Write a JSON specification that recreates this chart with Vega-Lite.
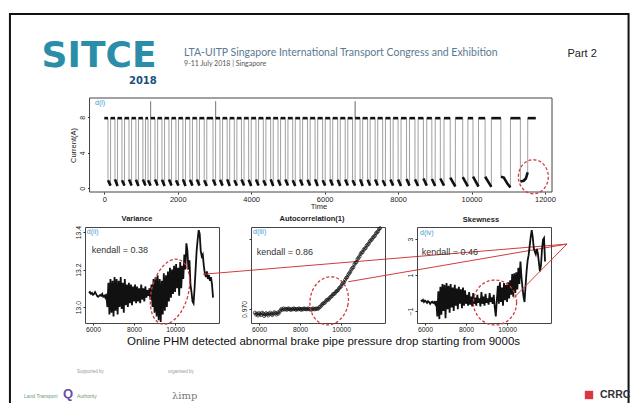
{
"$schema":"https://vega.github.io/schema/vega-lite/v6.json",
"background":"white",
"padding":{"left":8,"top":13,"right":0,"bottom":0},
"bounds":"flush",
"spacing":35,
"config":{
 "font":"Liberation Sans",
 "view":{"stroke":"#444","strokeWidth":1},
 "axis":{"grid":false,"domain":false,"ticks":true,"tickSize":2,"tickColor":"#333","labelFontSize":6.8,"labelColor":"#222","labelPadding":1,"labelFlush":false,"labelOverlap":false,"titleFontWeight":"normal","titleFontSize":7.5,"titleColor":"#222","titlePadding":1},
 "axisY":{"labelAngle":-90,"labelAlign":"center","labelBaseline":"bottom","labelPadding":2},
 "title":{"fontSize":7.5,"fontWeight":"bold","color":"#222","frame":"group","offset":3}
},
"datasets":{
"top":[
{"t":0,"v":7.9,"p":0},
{"t":100,"v":7.9,"p":0},{"t":101,"v":0.9,"p":1},{"t":170,"v":0.3,"p":1},{"t":171,"v":7.9,"p":2},
{"t":290,"v":7.9,"p":2},{"t":291,"v":1.0,"p":3},{"t":360,"v":0.25,"p":3},{"t":361,"v":7.9,"p":4},
{"t":480,"v":7.9,"p":4},{"t":481,"v":0.9,"p":5},{"t":550,"v":0.3,"p":5},{"t":551,"v":7.9,"p":6},
{"t":672,"v":7.9,"p":6},{"t":673,"v":1.0,"p":7},{"t":742,"v":0.3,"p":7},{"t":743,"v":7.9,"p":8},
{"t":860,"v":7.9,"p":8},{"t":861,"v":0.95,"p":9},{"t":930,"v":0.25,"p":9},{"t":931,"v":7.9,"p":10},
{"t":1050,"v":7.9,"p":10},{"t":1051,"v":1.0,"p":11},{"t":1120,"v":0.3,"p":11},{"t":1121,"v":7.9,"p":12},
{"t":1190,"v":7.9,"p":12},{"t":1191,"v":0.9,"p":13},{"t":1260,"v":0.3,"p":13},{"t":1261,"v":9.8},{"t":1262,"v":7.9,"p":14},
{"t":1380,"v":7.9,"p":14},{"t":1381,"v":1.0,"p":15},{"t":1450,"v":0.3,"p":15},{"t":1451,"v":7.9,"p":16},
{"t":1570,"v":7.9,"p":16},{"t":1571,"v":0.95,"p":17},{"t":1640,"v":0.25,"p":17},{"t":1641,"v":7.9,"p":18},
{"t":1760,"v":7.9,"p":18},{"t":1761,"v":1.0,"p":19},{"t":1830,"v":0.3,"p":19},{"t":1831,"v":7.9,"p":20},
{"t":1950,"v":7.9,"p":20},{"t":1951,"v":0.9,"p":21},{"t":2020,"v":0.3,"p":21},{"t":2021,"v":7.9,"p":22},
{"t":2140,"v":7.9,"p":22},{"t":2141,"v":1.0,"p":23},{"t":2210,"v":0.25,"p":23},{"t":2211,"v":7.9,"p":24},
{"t":2330,"v":7.9,"p":24},{"t":2331,"v":0.95,"p":25},{"t":2400,"v":0.3,"p":25},{"t":2401,"v":7.9,"p":26},
{"t":2520,"v":7.9,"p":26},{"t":2521,"v":1.0,"p":27},{"t":2590,"v":0.3,"p":27},{"t":2591,"v":7.9,"p":28},
{"t":2720,"v":7.9,"p":28},{"t":2721,"v":0.9,"p":29},{"t":2790,"v":0.25,"p":29},{"t":2791,"v":7.9,"p":30},
{"t":2960,"v":7.9,"p":30},{"t":2961,"v":1.0,"p":31},{"t":3030,"v":0.3,"p":31},{"t":3031,"v":9.8},{"t":3032,"v":7.9,"p":32},
{"t":3150,"v":7.9,"p":32},{"t":3151,"v":0.95,"p":33},{"t":3220,"v":0.3,"p":33},{"t":3221,"v":7.9,"p":34},
{"t":3345,"v":7.9,"p":34},{"t":3346,"v":1.0,"p":35},{"t":3415,"v":0.25,"p":35},{"t":3416,"v":7.9,"p":36},
{"t":3540,"v":7.9,"p":36},{"t":3541,"v":0.9,"p":37},{"t":3610,"v":0.3,"p":37},{"t":3611,"v":7.9,"p":38},
{"t":3735,"v":7.9,"p":38},{"t":3736,"v":1.0,"p":39},{"t":3805,"v":0.3,"p":39},{"t":3806,"v":7.9,"p":40},
{"t":3930,"v":7.9,"p":40},{"t":3931,"v":0.95,"p":41},{"t":4000,"v":0.25,"p":41},{"t":4001,"v":7.9,"p":42},
{"t":4130,"v":7.9,"p":42},{"t":4131,"v":1.0,"p":43},{"t":4200,"v":0.3,"p":43},{"t":4201,"v":7.9,"p":44},
{"t":4330,"v":7.9,"p":44},{"t":4331,"v":0.9,"p":45},{"t":4400,"v":0.3,"p":45},{"t":4401,"v":7.9,"p":46},
{"t":4530,"v":7.9,"p":46},{"t":4531,"v":1.0,"p":47},{"t":4600,"v":0.25,"p":47},{"t":4601,"v":7.9,"p":48},
{"t":4730,"v":7.9,"p":48},{"t":4731,"v":0.95,"p":49},{"t":4800,"v":0.3,"p":49},{"t":4801,"v":7.9,"p":50},
{"t":4930,"v":7.9,"p":50},{"t":4931,"v":1.0,"p":51},{"t":5000,"v":0.3,"p":51},{"t":5001,"v":7.9,"p":52},
{"t":5130,"v":7.9,"p":52},{"t":5131,"v":0.9,"p":53},{"t":5200,"v":0.25,"p":53},{"t":5201,"v":7.9,"p":54},
{"t":5330,"v":7.9,"p":54},{"t":5331,"v":1.0,"p":55},{"t":5400,"v":0.3,"p":55},{"t":5401,"v":7.9,"p":56},
{"t":5535,"v":7.9,"p":56},{"t":5536,"v":0.95,"p":57},{"t":5605,"v":0.3,"p":57},{"t":5606,"v":7.9,"p":58},
{"t":5740,"v":7.9,"p":58},{"t":5741,"v":1.0,"p":59},{"t":5810,"v":0.25,"p":59},{"t":5811,"v":7.9,"p":60},
{"t":5945,"v":7.9,"p":60},{"t":5946,"v":0.9,"p":61},{"t":6015,"v":0.3,"p":61},{"t":6016,"v":7.9,"p":62},
{"t":6150,"v":7.9,"p":62},{"t":6151,"v":1.0,"p":63},{"t":6220,"v":0.3,"p":63},{"t":6221,"v":7.9,"p":64},
{"t":6355,"v":7.9,"p":64},{"t":6356,"v":0.95,"p":65},{"t":6425,"v":0.25,"p":65},{"t":6426,"v":7.9,"p":66},
{"t":6560,"v":7.9,"p":66},{"t":6561,"v":1.0,"p":67},{"t":6630,"v":0.3,"p":67},{"t":6631,"v":7.9,"p":68},
{"t":6760,"v":7.9,"p":68},{"t":6761,"v":0.9,"p":69},{"t":6830,"v":0.3,"p":69},{"t":6831,"v":9.8},{"t":6832,"v":7.9,"p":70},
{"t":6965,"v":7.9,"p":70},{"t":6966,"v":1.0,"p":71},{"t":7035,"v":0.25,"p":71},{"t":7036,"v":7.9,"p":72},
{"t":7170,"v":7.9,"p":72},{"t":7171,"v":0.95,"p":73},{"t":7240,"v":0.3,"p":73},{"t":7241,"v":7.9,"p":74},
{"t":7375,"v":7.9,"p":74},{"t":7376,"v":1.0,"p":75},{"t":7445,"v":0.3,"p":75},{"t":7446,"v":7.9,"p":76},
{"t":7580,"v":7.9,"p":76},{"t":7581,"v":0.9,"p":77},{"t":7655,"v":0.25,"p":77},{"t":7656,"v":7.9,"p":78},
{"t":7790,"v":7.9,"p":78},{"t":7791,"v":1.0,"p":79},{"t":7865,"v":0.3,"p":79},{"t":7866,"v":7.9,"p":80},
{"t":8000,"v":7.9,"p":80},{"t":8001,"v":1.0,"p":81},{"t":8080,"v":0.25,"p":81},{"t":8081,"v":7.9,"p":82},
{"t":8230,"v":7.9,"p":82},{"t":8231,"v":1.05,"p":83},{"t":8310,"v":0.3,"p":83},{"t":8311,"v":7.9,"p":84},
{"t":8460,"v":7.9,"p":84},{"t":8461,"v":1.0,"p":85},{"t":8545,"v":0.25,"p":85},{"t":8546,"v":7.9,"p":86},
{"t":8690,"v":7.9,"p":86},{"t":8691,"v":1.1,"p":87},{"t":8780,"v":0.3,"p":87},{"t":8781,"v":7.9,"p":88},
{"t":8920,"v":7.9,"p":88},{"t":8921,"v":1.05,"p":89},{"t":9010,"v":0.25,"p":89},{"t":9011,"v":7.9,"p":90},
{"t":9150,"v":7.9,"p":90},{"t":9151,"v":1.1,"p":91},{"t":9250,"v":0.3,"p":91},{"t":9251,"v":7.9,"p":92},
{"t":9420,"v":7.9,"p":92},{"t":9421,"v":1.2,"p":93},{"t":9560,"v":0.2,"p":93},{"t":9561,"v":7.9,"p":94},
{"t":9760,"v":7.9,"p":94},{"t":9761,"v":1.25,"p":95},{"t":9900,"v":0.2,"p":95},{"t":9901,"v":7.9,"p":96},
{"t":10040,"v":7.9,"p":96},{"t":10041,"v":1.3,"p":97},{"t":10190,"v":0.2,"p":97},{"t":10191,"v":7.9,"p":98},
{"t":10370,"v":7.9,"p":98},{"t":10371,"v":1.3,"p":99},{"t":10540,"v":0.15,"p":99},{"t":10541,"v":7.9,"p":100},
{"t":10800,"v":7.9,"p":100},{"t":10801,"v":1.3,"p":101},{"t":10880,"v":1.2,"p":101},{"t":10980,"v":0.5,"p":101},{"t":11060,"v":0.1,"p":101},{"t":11061,"v":7.9,"p":102},
{"t":11330,"v":7.9,"p":102},{"t":11331,"v":0.75,"p":103},{"t":11420,"v":0.85,"p":103},{"t":11480,"v":1.1,"p":103},{"t":11530,"v":1.8,"p":103},{"t":11531,"v":7.9,"p":104},{"t":11750,"v":7.9,"p":104}
],
"var":[
{"x":5800,"y":13.075},{"x":5850,"y":13.08},{"x":5900,"y":13.07},{"x":5950,"y":13.075},{"x":6000,"y":13.065},{"x":6050,"y":13.07},{"x":6100,"y":13.08},{"x":6150,"y":13.07},{"x":6200,"y":13.06},{"x":6250,"y":13.055},{"x":6300,"y":13.06},{"x":6350,"y":13.065},{"x":6400,"y":13.06},{"x":6450,"y":13.07},{"x":6500,"y":13.055},{"x":6550,"y":13.06},{"x":6600,"y":13.05},{"x":6650,"y":13.07},
{"x":6700,"y":13.0},{"x":6750,"y":13.13},{"x":6800,"y":12.96},{"x":6850,"y":13.15},{"x":6900,"y":12.97},{"x":6950,"y":13.14},{"x":7000,"y":12.95},{"x":7050,"y":13.16},{"x":7100,"y":12.98},{"x":7150,"y":13.15},{"x":7200,"y":12.96},{"x":7250,"y":13.14},{"x":7300,"y":13.0},{"x":7350,"y":13.16},{"x":7400,"y":12.99},{"x":7450,"y":13.13},{"x":7500,"y":12.97},{"x":7550,"y":13.15},{"x":7600,"y":13.01},{"x":7650,"y":13.12},{"x":7700,"y":13.0},{"x":7750,"y":13.13},{"x":7800,"y":13.02},{"x":7850,"y":13.12},{"x":7900,"y":13.01},{"x":7950,"y":13.11},{"x":8000,"y":13.03},{"x":8050,"y":13.12},{"x":8100,"y":13.02},{"x":8150,"y":13.11},{"x":8200,"y":13.03},{"x":8250,"y":13.1},{"x":8300,"y":13.02},{"x":8350,"y":13.12},{"x":8400,"y":13.04},{"x":8450,"y":13.1},{"x":8500,"y":13.03},{"x":8550,"y":13.11},{"x":8600,"y":13.05},{"x":8650,"y":13.09},{"x":8700,"y":13.06},{"x":8750,"y":13.1},{"x":8800,"y":13.04},{"x":8850,"y":13.12},{"x":8900,"y":13.0},
{"x":8950,"y":13.15},{"x":9000,"y":12.97},{"x":9050,"y":13.16},{"x":9100,"y":12.95},{"x":9150,"y":13.17},{"x":9200,"y":12.93},{"x":9250,"y":13.15},{"x":9300,"y":12.92},{"x":9350,"y":13.14},{"x":9400,"y":12.96},{"x":9450,"y":13.18},{"x":9500,"y":12.98},{"x":9550,"y":13.17},{"x":9600,"y":13.0},{"x":9650,"y":13.19},{"x":9700,"y":13.03},{"x":9750,"y":13.21},{"x":9800,"y":13.05},{"x":9850,"y":13.2},{"x":9900,"y":13.07},{"x":9950,"y":13.22},{"x":10000,"y":13.08},{"x":10050,"y":13.23},{"x":10100,"y":13.1},{"x":10150,"y":13.21},{"x":10200,"y":13.06},{"x":10250,"y":13.24},{"x":10300,"y":13.1},{"x":10350,"y":13.22},{"x":10400,"y":13.15},{"x":10450,"y":13.28},{"x":10500,"y":13.2},{"x":10550,"y":13.34},{"x":10600,"y":13.3},{"x":10650,"y":13.2},{"x":10700,"y":13.25},{"x":10750,"y":13.12},{"x":10800,"y":13.08},{"x":10850,"y":13.03},{"x":10900,"y":13.02},{"x":10950,"y":13.1},{"x":11000,"y":13.2},{"x":11050,"y":13.3},{"x":11100,"y":13.36},{"x":11150,"y":13.41},{"x":11200,"y":13.39},{"x":11250,"y":13.3},{"x":11300,"y":13.27},{"x":11350,"y":13.28},{"x":11400,"y":13.22},{"x":11450,"y":13.18},{"x":11500,"y":13.16},{"x":11550,"y":13.19},{"x":11600,"y":13.15},{"x":11650,"y":13.17},{"x":11700,"y":13.14},{"x":11750,"y":13.16},{"x":11800,"y":13.12},{"x":11850,"y":13.05}
],
"ac":[
{"x":5800,"y":0.9692},{"x":5850,"y":0.9688},{"x":5900,"y":0.969},{"x":5950,"y":0.9686},{"x":6000,"y":0.9691},{"x":6050,"y":0.9689},{"x":6100,"y":0.9687},{"x":6150,"y":0.9692},{"x":6200,"y":0.969},{"x":6250,"y":0.9685},{"x":6300,"y":0.9688},{"x":6350,"y":0.9691},{"x":6400,"y":0.9689},{"x":6450,"y":0.9686},{"x":6500,"y":0.969},{"x":6550,"y":0.9692},{"x":6600,"y":0.9689},{"x":6650,"y":0.9687},{"x":6700,"y":0.969},{"x":6750,"y":0.9693},{"x":6800,"y":0.9691},{"x":6850,"y":0.9688},{"x":6900,"y":0.9692},{"x":6950,"y":0.969},{"x":7000,"y":0.9694},{"x":7050,"y":0.9697},{"x":7100,"y":0.97},{"x":7150,"y":0.9698},{"x":7200,"y":0.9701},{"x":7250,"y":0.9699},{"x":7300,"y":0.97},{"x":7350,"y":0.9698},{"x":7400,"y":0.97},{"x":7450,"y":0.9701},{"x":7500,"y":0.9699},{"x":7550,"y":0.9698},{"x":7600,"y":0.97},{"x":7650,"y":0.9699},{"x":7700,"y":0.9701},{"x":7750,"y":0.97},{"x":7800,"y":0.9698},{"x":7850,"y":0.97},{"x":7900,"y":0.9699},{"x":7950,"y":0.9701},{"x":8000,"y":0.97},{"x":8050,"y":0.9698},{"x":8100,"y":0.97},{"x":8150,"y":0.9699},{"x":8200,"y":0.9701},{"x":8250,"y":0.97},{"x":8300,"y":0.9699},{"x":8350,"y":0.97},{"x":8400,"y":0.9701},{"x":8450,"y":0.9699},{"x":8500,"y":0.97},{"x":8550,"y":0.9698},{"x":8600,"y":0.97},{"x":8650,"y":0.9701},{"x":8700,"y":0.9699},{"x":8750,"y":0.97},{"x":8800,"y":0.9701},
{"x":8850,"y":0.97},{"x":8900,"y":0.9701},{"x":8950,"y":0.9704},{"x":9000,"y":0.9705},{"x":9050,"y":0.9708},{"x":9100,"y":0.9711},{"x":9150,"y":0.9712},{"x":9200,"y":0.9713},{"x":9250,"y":0.9716},{"x":9300,"y":0.9719},{"x":9350,"y":0.972},{"x":9400,"y":0.972},{"x":9450,"y":0.9724},{"x":9500,"y":0.9726},{"x":9550,"y":0.9727},{"x":9600,"y":0.9731},{"x":9650,"y":0.9732},{"x":9700,"y":0.9733},{"x":9750,"y":0.9737},{"x":9800,"y":0.9738},{"x":9850,"y":0.974},{"x":9900,"y":0.9744},{"x":9950,"y":0.9746},{"x":10000,"y":0.9748},{"x":10050,"y":0.9753},{"x":10100,"y":0.9755},{"x":10150,"y":0.9757},{"x":10200,"y":0.9762},{"x":10250,"y":0.9766},{"x":10300,"y":0.9768},{"x":10350,"y":0.9773},{"x":10400,"y":0.9776},{"x":10450,"y":0.9779},{"x":10500,"y":0.9784},{"x":10550,"y":0.9787},{"x":10600,"y":0.9789},{"x":10650,"y":0.9795},{"x":10700,"y":0.9798},{"x":10750,"y":0.98},{"x":10800,"y":0.9806},{"x":10850,"y":0.9809},{"x":10900,"y":0.9812},{"x":10950,"y":0.9817},{"x":11000,"y":0.982},{"x":11050,"y":0.9821},{"x":11100,"y":0.9826},{"x":11150,"y":0.9828},{"x":11200,"y":0.983},{"x":11250,"y":0.9835},{"x":11300,"y":0.9837},{"x":11350,"y":0.9839},{"x":11400,"y":0.9844},{"x":11450,"y":0.9846},{"x":11500,"y":0.9848},{"x":11550,"y":0.9852},{"x":11600,"y":0.9854},{"x":11650,"y":0.9856},{"x":11700,"y":0.9861},{"x":11750,"y":0.9863},{"x":11800,"y":0.9865},{"x":11850,"y":0.987},{"x":11900,"y":0.9872}
],
"sk":[
{"x":5800,"y":-0.4},{"x":5850,"y":-0.45},{"x":5900,"y":-0.38},{"x":5950,"y":-0.5},{"x":6000,"y":-0.42},{"x":6050,"y":-0.48},{"x":6100,"y":-0.55},{"x":6150,"y":-0.45},{"x":6200,"y":-0.5},{"x":6250,"y":-0.6},{"x":6300,"y":-0.52},{"x":6350,"y":-0.48},{"x":6400,"y":-0.55},{"x":6450,"y":-0.5},{"x":6500,"y":-0.62},{"x":6550,"y":-0.45},{"x":6600,"y":-1.3},{"x":6650,"y":0.1},{"x":6700,"y":-1.45},{"x":6750,"y":0.35},{"x":6800,"y":-1.2},{"x":6850,"y":0.5},{"x":6900,"y":-1.0},{"x":6950,"y":0.45},{"x":7000,"y":-1.4},{"x":7050,"y":0.55},{"x":7100,"y":-0.9},{"x":7150,"y":0.4},{"x":7200,"y":-1.1},{"x":7250,"y":0.5},{"x":7300,"y":-0.8},{"x":7350,"y":0.3},{"x":7400,"y":-1.0},{"x":7450,"y":0.45},{"x":7500,"y":-0.7},{"x":7550,"y":0.25},{"x":7600,"y":-0.9},{"x":7650,"y":0.35},{"x":7700,"y":-0.6},{"x":7750,"y":0.2},{"x":7800,"y":-0.85},{"x":7850,"y":0.3},{"x":7900,"y":-0.7},{"x":7950,"y":0.15},{"x":8000,"y":-0.6},{"x":8050,"y":-0.1},{"x":8100,"y":-0.7},{"x":8150,"y":0.05},{"x":8200,"y":-0.65},{"x":8250,"y":-0.2},{"x":8300,"y":-0.75},{"x":8350,"y":0.0},{"x":8400,"y":-0.6},{"x":8450,"y":-0.25},{"x":8500,"y":-0.7},{"x":8550,"y":-0.1},{"x":8600,"y":-0.55},{"x":8650,"y":-0.3},{"x":8700,"y":-0.75},{"x":8750,"y":0.05},{"x":8800,"y":-0.6},{"x":8850,"y":-0.2},{"x":8900,"y":-0.7},{"x":8950,"y":-0.05},{"x":9000,"y":-0.55},{"x":9050,"y":-0.3},{"x":9100,"y":-0.65},{"x":9150,"y":0.0},{"x":9200,"y":-0.5},{"x":9250,"y":-0.25},{"x":9300,"y":-0.6},{"x":9350,"y":-0.1},{"x":9400,"y":-0.8},{"x":9450,"y":-1.3},{"x":9500,"y":-0.4},{"x":9550,"y":0.4},{"x":9600,"y":-0.6},{"x":9650,"y":0.6},{"x":9700,"y":-0.5},{"x":9750,"y":0.3},{"x":9800,"y":-0.7},{"x":9850,"y":0.55},{"x":9900,"y":-0.4},{"x":9950,"y":0.45},{"x":10000,"y":-0.5},{"x":10050,"y":0.6},{"x":10100,"y":-0.3},{"x":10150,"y":0.7},{"x":10200,"y":-0.1},{"x":10250,"y":1.05},{"x":10300,"y":-0.2},{"x":10350,"y":1.1},{"x":10400,"y":0.0},{"x":10450,"y":1.15},{"x":10500,"y":0.2},{"x":10550,"y":1.4},{"x":10600,"y":0.5},{"x":10650,"y":1.75},{"x":10700,"y":0.9},{"x":10750,"y":0.3},{"x":10800,"y":-0.2},{"x":10850,"y":-0.5},{"x":10900,"y":0.4},{"x":10950,"y":1.2},{"x":11000,"y":1.8},{"x":11050,"y":2.1},{"x":11100,"y":2.6},{"x":11150,"y":3.1},{"x":11200,"y":3.5},{"x":11250,"y":3.1},{"x":11300,"y":2.5},{"x":11350,"y":2.3},{"x":11400,"y":2.15},{"x":11450,"y":2.45},{"x":11500,"y":2.2},{"x":11550,"y":1.7},{"x":11600,"y":1.2},{"x":11650,"y":1.5},{"x":11700,"y":2.4},{"x":11750,"y":2.95},{"x":11800,"y":3.05},{"x":11850,"y":1.75}
]
},
"vconcat":[
 {"width":467,"height":94,"data":{"name":"top"},"view":{"stroke":null},"layer":[
  {"mark":{"type":"line","color":"#777","strokeWidth":0.7},
   "encoding":{
    "x":{"field":"t","type":"quantitative","scale":{"domain":[-526,12192],"nice":false,"zero":false},"axis":{"title":"Time","values":[0,2000,4000,6000,8000,10000,12000],"format":"d","labelFontSize":7.5,"titlePadding":0}},
    "y":{"field":"v","type":"quantitative","scale":{"domain":[-0.42,10.17],"nice":false,"zero":false},"axis":{"title":"Current(A)","values":[0,2,4,6,8,10],"format":"d","labelFontSize":7,"titlePadding":1,"offset":-4.5}}}},
  {"transform":[{"filter":"isValid(datum.p)"}],"mark":{"type":"line","color":"#111","strokeWidth":2.6},
   "encoding":{"x":{"field":"t","type":"quantitative"},"y":{"field":"v","type":"quantitative"},"detail":{"field":"p","type":"nominal"}}},
  {"data":{"values":[{}]},"mark":{"type":"rect","filled":false,"stroke":"#444","strokeWidth":1},
   "encoding":{"x":{"datum":-403},"x2":{"datum":12192},"y":{"datum":-0.42},"y2":{"datum":10.17}}},
  {"data":{"values":[{}]},"mark":{"type":"point","shape":"M0.88,0C0.88,0.552,0.486,1,0,1C-0.486,1,-0.88,0.552,-0.88,0C-0.88,-0.552,-0.486,-1,0,-1C0.486,-1,0.88,-0.552,0.88,0Z","size":1156,"filled":false,"stroke":"#d23c3c","strokeWidth":1.3,"strokeDash":[3,2],"opacity":1},
   "encoding":{"x":{"datum":11684},"y":{"datum":1.3}}},
  {"data":{"values":[{}]},"mark":{"type":"text","text":"d(i)","align":"left","baseline":"middle","fontSize":7,"color":"#3d9bd4"},
   "encoding":{"x":{"datum":-253},"y":{"datum":9.61}}},
  {"data":{"values":[{}]},"mark":{"type":"rect","filled":false,"stroke":"#111","strokeWidth":2},
   "encoding":{"x":{"datum":-2570},"x2":{"datum":14277},"y":{"datum":19.63},"y2":{"datum":-24.53}}},
  {"data":{"values":[{}]},"mark":{"type":"text","text":"SITCE","align":"center","baseline":"alphabetic","fontSize":36,"fontWeight":"bold","font":"DejaVu Sans","color":"#2a8ea8"},
   "encoding":{"x":{"datum":-144},"y":{"datum":13.7}}},
  {"data":{"values":[{}]},"mark":{"type":"text","text":"2018","align":"center","baseline":"alphabetic","fontSize":10,"fontWeight":"bold","font":"DejaVu Sans","color":"#1a4f80"},
   "encoding":{"x":{"datum":1050},"y":{"datum":11.7}}},
  {"data":{"values":[{}]},"mark":{"type":"text","text":"LTA-UITP Singapore International Transport Congress and Exhibition","align":"left","baseline":"middle","fontSize":10.5,"font":"Lato","color":"#5a7a90"},
   "encoding":{"x":{"datum":2173},"y":{"datum":15.2}}},
  {"data":{"values":[{}]},"mark":{"type":"text","text":"9-11 July 2018 | Singapore","align":"left","baseline":"middle","fontSize":7,"font":"Lato","color":"#555"},
   "encoding":{"x":{"datum":2173},"y":{"datum":14.05}}},
  {"data":{"values":[{}]},"mark":{"type":"text","text":"Part 2","align":"left","baseline":"middle","fontSize":11,"color":"#222"},
   "encoding":{"x":{"datum":12614},"y":{"datum":15.18}}}
 ]},
 {"bounds":"flush","spacing":32,"hconcat":[
 {"width":134,"height":96,"data":{"name":"var"},"title":{"text":"Variance","dx":-15},"layer":[
  {"mark":{"type":"line","color":"#111","strokeWidth":1.8},
   "encoding":{
    "x":{"field":"x","type":"quantitative","scale":{"domain":[5610,12140],"nice":false,"zero":false},"axis":{"title":null,"values":[6000,8000,10000],"format":"d"}},
    "y":{"field":"y","type":"quantitative","scale":{"domain":[12.915,13.427],"nice":false,"zero":false},"axis":{"title":null,"values":[13.0,13.2,13.4],"format":".1f"}}}},
  {"data":{"values":[{}]},"mark":{"type":"point","shape":"M0.55,0C0.55,0.552,0.304,1,0,1C-0.304,1,-0.55,0.552,-0.55,0C-0.55,-0.552,-0.304,-1,0,-1C0.304,-1,0.55,-0.552,0.55,0Z","size":4436,"angle":15,"filled":false,"stroke":"#d23c3c","strokeWidth":1.3,"strokeDash":[3,2],"opacity":1},
   "encoding":{"x":{"datum":9752},"y":{"datum":13.082}}},
  {"data":{"values":[{}]},"mark":{"type":"rule","color":"#d23c3c","strokeWidth":1},
   "encoding":{"x":{"datum":11360},"y":{"datum":13.175},"x2":{"datum":29098},"y2":{"datum":13.336}}},
  {"data":{"values":[{}]},"mark":{"type":"text","text":"d(ii)","align":"left","baseline":"middle","fontSize":7,"color":"#3d9bd4"},
   "encoding":{"x":{"datum":5700},"y":{"datum":13.4}}},
  {"data":{"values":[{}]},"mark":{"type":"text","text":"kendall = 0.38","align":"left","baseline":"middle","fontSize":9,"color":"#333"},
   "encoding":{"x":{"datum":5937},"y":{"datum":13.304}}},
  {"data":{"values":[{}]},"mark":{"type":"text","text":"Supported by","align":"left","baseline":"middle","fontSize":4.5,"color":"#999"},
   "encoding":{"x":{"datum":5220},"y":{"datum":12.654}}},
  {"data":{"values":[{}]},"mark":{"type":"text","text":"Land Transport","align":"left","baseline":"middle","fontSize":5,"color":"#6a9a7a"},
   "encoding":{"x":{"datum":2637},"y":{"datum":12.526}}},
  {"data":{"values":[{}]},"mark":{"type":"text","text":"Q","align":"center","baseline":"middle","fontSize":13,"fontWeight":"bold","color":"#6b4fa0"},
   "encoding":{"x":{"datum":4782},"y":{"datum":12.536}}},
  {"data":{"values":[{}]},"mark":{"type":"text","text":"Authority","align":"left","baseline":"middle","fontSize":5,"color":"#6a9a7a"},
   "encoding":{"x":{"datum":5220},"y":{"datum":12.526}}},
  {"data":{"values":[{}]},"mark":{"type":"text","text":"organised by","align":"left","baseline":"middle","fontSize":4.5,"color":"#999"},
   "encoding":{"x":{"datum":9655},"y":{"datum":12.654}}},
  {"data":{"values":[{}]},"mark":{"type":"text","text":"λimp","align":"left","baseline":"middle","fontSize":10,"font":"DejaVu Serif","color":"#777"},
   "encoding":{"x":{"datum":9850},"y":{"datum":12.526}}}
 ]},
 {"width":134,"height":96,"data":{"name":"ac"},"title":{"text":"Autocorrelation(1)","dx":-6},"layer":[
  {"mark":{"type":"line","color":"#111","strokeWidth":0.8},
   "encoding":{
    "x":{"field":"x","type":"quantitative","scale":{"domain":[5610,12140],"nice":false,"zero":false},"axis":{"title":"Online PHM detected abnormal brake pipe pressure drop starting from 9000s","values":[6000,8000,10000],"format":"d","titleFontSize":11.5,"titleColor":"#111","titleX":72,"titleY":21,"titleAlign":"center","titleBaseline":"alphabetic"}},
    "y":{"field":"y","type":"quantitative","scale":{"domain":[0.967,0.98745],"nice":false,"zero":false},"axis":{"title":null,"values":[0.97,0.975,0.98,0.985],"labelExpr":"datum.value == 0.97 || datum.value == 0.98 ? format(datum.value, '.3f') : ''"}}}},
  {"mark":{"type":"point","color":"#111","size":10,"strokeWidth":0.7,"filled":false,"opacity":1},
   "encoding":{"x":{"field":"x","type":"quantitative"},"y":{"field":"y","type":"quantitative"}}},
  {"data":{"values":[{}]},"mark":{"type":"point","shape":"M0.79,0C0.79,0.552,0.436,1,0,1C-0.436,1,-0.79,0.552,-0.79,0C-0.79,-0.552,-0.436,-1,0,-1C0.436,-1,0.79,-0.552,0.79,0Z","size":2343,"angle":10,"filled":false,"stroke":"#d23c3c","strokeWidth":1.3,"strokeDash":[3,2],"opacity":1},
   "encoding":{"x":{"datum":9421},"y":{"datum":0.97172}}},
  {"data":{"values":[{}]},"mark":{"type":"rule","color":"#d23c3c","strokeWidth":1},
   "encoding":{"x":{"datum":10351},"y":{"datum":0.97579},"x2":{"datum":21009},"y2":{"datum":0.98381}}},
  {"data":{"values":[{}]},"mark":{"type":"text","text":"d(iii)","align":"left","baseline":"middle","fontSize":7,"color":"#3d9bd4"},
   "encoding":{"x":{"datum":5707},"y":{"datum":0.98636}}},
  {"data":{"values":[{}]},"mark":{"type":"text","text":"kendall = 0.86","align":"left","baseline":"middle","fontSize":9,"color":"#333"},
   "encoding":{"x":{"datum":5888},"y":{"datum":0.98204}}}
 ]},
 {"width":134,"height":96,"data":{"name":"sk"},"title":{"text":"Skewness","dx":-3},"layer":[
  {"mark":{"type":"line","color":"#111","strokeWidth":1.8},
   "encoding":{
    "x":{"field":"x","type":"quantitative","scale":{"domain":[5610,12140],"nice":false,"zero":false},"axis":{"title":null,"values":[6000,8000,10000],"format":"d"}},
    "y":{"field":"y","type":"quantitative","scale":{"domain":[-1.667,3.667],"nice":false,"zero":false},"axis":{"title":null,"values":[-1,0,1,2,3],"format":"d"}}}},
  {"data":{"values":[{}]},"mark":{"type":"point","shape":"M0.96,0C0.96,0.552,0.53,1,0,1C-0.53,1,-0.96,0.552,-0.96,0C-0.96,-0.552,-0.53,-1,0,-1C0.53,-1,0.96,-0.552,0.96,0Z","size":2025,"filled":false,"stroke":"#d23c3c","strokeWidth":1.3,"strokeDash":[3,2],"opacity":1},
   "encoding":{"x":{"datum":9411},"y":{"datum":-0.528}}},
  {"data":{"values":[{}]},"mark":{"type":"rule","color":"#d23c3c","strokeWidth":1},
   "encoding":{"x":{"datum":10303},"y":{"datum":-0.295},"x2":{"datum":12920},"y2":{"datum":2.722}}},
  {"data":{"values":[{}]},"mark":{"type":"text","text":"d(iv)","align":"left","baseline":"middle","fontSize":7,"color":"#3d9bd4"},
   "encoding":{"x":{"datum":5756},"y":{"datum":3.333}}},
  {"data":{"values":[{}]},"mark":{"type":"text","text":"kendall = 0.46","align":"left","baseline":"middle","fontSize":9,"color":"#333"},
   "encoding":{"x":{"datum":5839},"y":{"datum":2.26}}},
  {"data":{"values":[{}]},"mark":{"type":"point","shape":"square","size":70,"filled":true,"color":"#d9363e","opacity":1},
   "encoding":{"x":{"datum":13992},"y":{"datum":-5.667}}},
  {"data":{"values":[{}]},"mark":{"type":"text","text":"CRRC","align":"left","baseline":"middle","fontSize":10.5,"fontWeight":"bold","color":"#333"},
   "encoding":{"x":{"datum":14528},"y":{"datum":-5.667}}}
 ]}
 ]}
]
}
